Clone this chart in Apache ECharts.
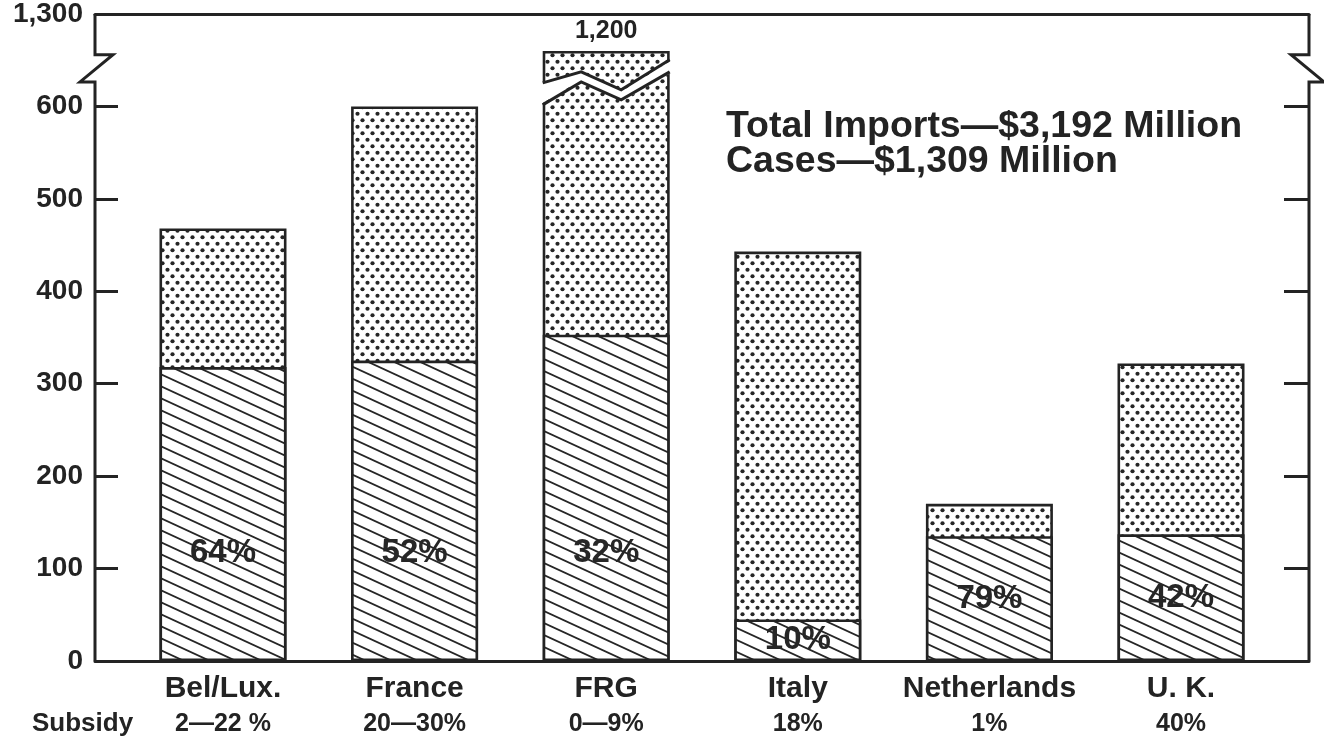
<!DOCTYPE html>
<html>
<head>
<meta charset="utf-8">
<script src="https://cdn.jsdelivr.net/npm/echarts@6/dist/echarts.min.js"></script>
<style>
  html, body { margin: 0; padding: 0; background: #fff; }
  #chart { width: 1324px; height: 739px; }
</style>
</head>
<body>
<div id="chart"></div>
<script>
// ---------------- DATA ----------------
const categories = ['Bel/Lux.', 'France', 'FRG', 'Italy', 'Netherlands', 'U. K.'];
const subsidy = ['2\u201422 %', '20\u201430%', '0\u20149%', '18%', '1%', '40%'];
const totalImports = [468, 600, 1200, 443, 170, 322];   // $ million
const cases = [318, 325, 353, 45, 135, 137];           // $ million
const casePctLabels = ['64%', '52%', '32%', '10%', '79%', '42%'];
const yTickValues = [0, 100, 200, 300, 400, 500, 600];
const axisTopReal = 1300;
const noteLines = ['Total Imports\u2014$3,192 Million', 'Cases\u2014$1,309 Million'];

// ---------------- SCALE (broken axis) ----------------
const BREAK_LOW = 600;          // real value where the axis is broken
const AXIS_TOP_DISPLAY = 700;   // display position of the top label
const ABOVE_BREAK_SCALE = 0.4;  // display units per real unit above break
function toAxis(v) {
  return v <= BREAK_LOW ? v : AXIS_TOP_DISPLAY - (axisTopReal - v) * ABOVE_BREAK_SCALE;
}

// ---------------- STYLE ----------------
const FONT = '"Liberation Sans", Arial, Helvetica, sans-serif';
const INK = '#232323';
const BAR_W = 127;
const X_MIN = -0.668, X_MAX = categories.length - 1 + 0.668;
const PCT_LABEL_MAX = 117;

function makeHatch() {
  const W = 26, H = 12;
  const c = document.createElement('canvas');
  c.width = W; c.height = H;
  const g = c.getContext('2d');
  g.fillStyle = '#fff'; g.fillRect(0, 0, W, H);
  g.strokeStyle = '#262626'; g.lineWidth = 1.8;
  for (let k = -1; k <= 1; k++) {
    g.beginPath(); g.moveTo(-1, k * H - H / W); g.lineTo(W + 1, k * H + H + H / W); g.stroke();
  }
  return c;
}
function makeDots() {
  const W = 10, H = 13;
  const c = document.createElement('canvas');
  c.width = W; c.height = H;
  const g = c.getContext('2d');
  g.fillStyle = '#fff'; g.fillRect(0, 0, W, H);
  g.fillStyle = '#262626';
  [[2.5, 3.25], [7.5, 9.75]].forEach(function (p) {
    g.beginPath(); g.arc(p[0], p[1], 2.1, 0, Math.PI * 2); g.fill();
  });
  return c;
}
const hatch = makeHatch();
const dots = makeDots();

const chart = echarts.init(document.getElementById('chart'), null, { renderer: 'canvas' });

const totalData = totalImports.map(function (t, i) { return [i, toAxis(t)]; });
const caseData = cases.map(function (v, i) { return [i, v]; });
const pctData = cases.map(function (v, i) { return [i, Math.min(v / 2, PCT_LABEL_MAX)]; });
const brokenIdx = totalImports.map(function (t, i) { return t > BREAK_LOW ? [i, toAxis(t)] : null; })
  .filter(function (d) { return d; });

// zigzag of the broken bar, relative to bar top (display units) at x fractions of bar width
const ZZ_X = [-0.5, -0.197, 0.118, 0.5];
const ZZ_UP = [-34.5, -22.6, -42, -9.6];
const ZZ_LO = [-58.3, -33.4, -52.9, -22.6];

const option = {
  animation: false,
  backgroundColor: '#fff',
  grid: { left: 95, right: 15, top: 14, bottom: 78, containLabel: false },
  xAxis: [
    {
      type: 'value', min: X_MIN, max: X_MAX, position: 'bottom',
      splitLine: { show: false },
      axisLine: { show: true, onZero: false, lineStyle: { color: INK, width: 3 } },
      axisTick: { show: false },
      axisLabel: {
        show: true, margin: 10, customValues: categories.map(function (c, i) { return i; }),
        formatter: function (v) {
          const i = Math.round(v);
          return '{n|' + categories[i] + '}\n{s|' + subsidy[i] + '}';
        },
        rich: {
          n: { fontSize: 30, fontWeight: 'bold', fontFamily: FONT, color: INK, lineHeight: 36 },
          s: { fontSize: 25, fontWeight: 'bold', fontFamily: FONT, color: INK, lineHeight: 34 }
        }
      }
    },
    {
      type: 'value', min: X_MIN, max: X_MAX, position: 'top',
      splitLine: { show: false },
      axisLine: { show: true, onZero: false, lineStyle: { color: INK, width: 3 } },
      axisTick: { show: false }, axisLabel: { show: false }
    }
  ],
  yAxis: [
    {
      type: 'value', min: 0, max: AXIS_TOP_DISPLAY, interval: 100, position: 'left',
      splitLine: { show: false },
      axisLine: { show: false, onZero: false },
      axisTick: { show: true, inside: true, length: 23, customValues: yTickValues,
        lineStyle: { color: INK, width: 3 } },
      axisLabel: {
        show: true, margin: 12, customValues: yTickValues.concat([AXIS_TOP_DISPLAY]),
        fontSize: 28, fontWeight: 'bold', fontFamily: FONT, color: INK,
        formatter: function (v) {
          return v === AXIS_TOP_DISPLAY ? axisTopReal.toLocaleString('en-US') : String(v);
        }
      }
    },
    {
      type: 'value', min: 0, max: AXIS_TOP_DISPLAY, interval: 100, position: 'right',
      splitLine: { show: false },
      axisLine: { show: false, onZero: false },
      axisTick: { show: true, inside: true, length: 25, customValues: yTickValues.slice(1),
        lineStyle: { color: INK, width: 3 } },
      axisLabel: { show: false }
    }
  ],
  graphic: [
    { type: 'text', left: 726, top: 108, style: { text: noteLines[0], font: 'bold 37.5px ' + FONT, fill: INK } },
    { type: 'text', left: 726, top: 143, style: { text: noteLines[1], font: 'bold 37.5px ' + FONT, fill: INK } },
    { type: 'text', left: 32, top: 711, style: { text: 'Subsidy', font: 'bold 26px ' + FONT, fill: INK } }
  ],
  series: [
    {
      name: 'Total imports', type: 'bar', barWidth: BAR_W, barGap: '-100%', z: 2,
      data: totalData,
      itemStyle: { color: { image: dots, repeat: 'repeat' }, borderColor: INK, borderWidth: 2.6 },
      label: {
        show: true, position: 'top', distance: 7,
        fontSize: 25, fontWeight: 'bold', fontFamily: FONT, color: INK,
        formatter: function (p) {
          const t = totalImports[p.dataIndex];
          return t > BREAK_LOW ? t.toLocaleString('en-US') : '';
        }
      }
    },
    {
      name: 'Cases', type: 'bar', barWidth: BAR_W, barGap: '-100%', z: 3,
      data: caseData,
      itemStyle: { color: { image: hatch, repeat: 'repeat' }, borderColor: INK, borderWidth: 2.6 }
    },
    {
      name: 'break', type: 'custom', z: 5, clip: false,
      data: brokenIdx,
      renderItem: function (params, api) {
        const i = api.value(0), top = api.value(1);
        const cx = api.coord([i, 0])[0];
        const pt = function (fx, dy, ext) {
          const p = api.coord([i, top + dy]);
          return [cx + fx * BAR_W + (ext ? Math.sign(fx) * 3 : 0), p[1]];
        };
        const up = ZZ_X.map(function (fx, k) { return pt(fx, ZZ_UP[k], false); });
        const lo = ZZ_X.map(function (fx, k) { return pt(fx, ZZ_LO[k], false); });
        const upE = ZZ_X.map(function (fx, k) { return pt(fx, ZZ_UP[k], true); });
        const loE = ZZ_X.map(function (fx, k) { return pt(fx, ZZ_LO[k], true); });
        const poly = upE.concat(loE.slice().reverse());
        return {
          type: 'group',
          children: [
            { type: 'polygon', shape: { points: poly }, style: { fill: '#fff', stroke: null } },
            { type: 'polyline', shape: { points: up }, style: { stroke: INK, lineWidth: 3, fill: null, lineJoin: 'miter' } },
            { type: 'polyline', shape: { points: lo }, style: { stroke: INK, lineWidth: 3, fill: null, lineJoin: 'miter' } }
          ]
        };
      }
    },
    {
      name: 'frame', type: 'custom', z: 6, clip: false,
      data: [[0]],
      renderItem: function (params, api) {
        const cs = params.coordSys;
        const xl = cs.x, xr = cs.x + cs.width;
        const y = function (v) { return api.coord([0, v])[1]; };
        const yb = y(0), yTop = y(AXIS_TOP_DISPLAY), yz1 = y(626.5), yz2 = y(656);
        const left = [[xl, yb], [xl, yz1], [xl - 15, yz1], [xl + 18, yz2], [xl, yz2], [xl, yTop]];
        const right = [[xr, yb], [xr, yz1], [xr + 15, yz1], [xr - 18, yz2], [xr, yz2], [xr, yTop]];
        return {
          type: 'group',
          children: [
            { type: 'polyline', shape: { points: left }, style: { stroke: INK, lineWidth: 3, fill: null, lineJoin: 'miter' } },
            { type: 'polyline', shape: { points: right }, style: { stroke: INK, lineWidth: 3, fill: null, lineJoin: 'miter' } }
          ]
        };
      }
    },
    {
      name: 'pct', type: 'scatter', symbolSize: 0, z: 7, silent: true,
      itemStyle: { opacity: 1 },
      data: pctData,
      label: {
        show: true, position: 'inside',
        fontSize: 33, fontWeight: 'bold', fontFamily: FONT, color: '#262626',
        formatter: function (p) { return casePctLabels[p.dataIndex]; }
      }
    }
  ]
};
chart.setOption(option);
</script>
</body>
</html>
